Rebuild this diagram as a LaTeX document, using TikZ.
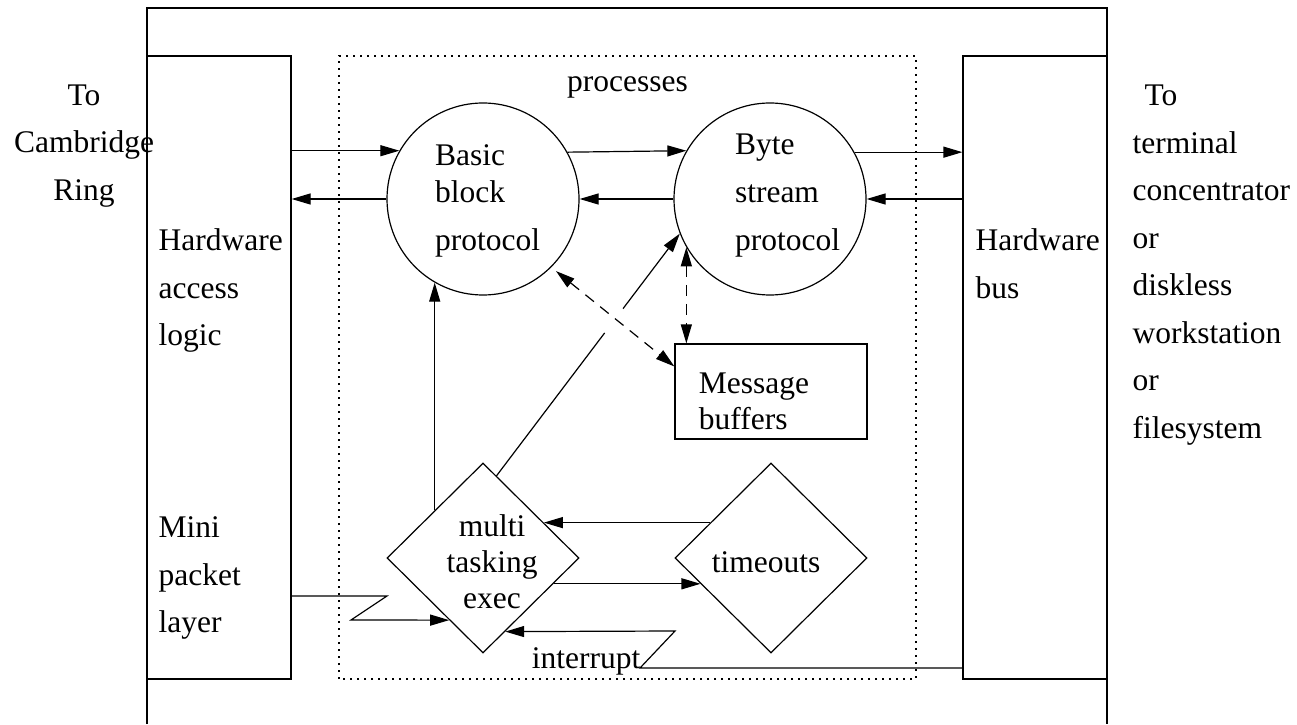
\documentclass[tikz,border=0pt]{standalone}
\usepackage{fontspec}
\setmainfont{Liberation Serif}
\usetikzlibrary{shapes.geometric,arrows.meta,calc,positioning}

\begin{document}
\begin{tikzpicture}[x=1pt,y=1pt,line width=1.2pt,
		>={Triangle[length=19pt,width=11pt]},
		txt/.style={font=\fontsize{31.5}{47.5}\selectfont,align=left,inner sep=0pt},
		txtk/.style={font=\fontsize{31.5}{36}\selectfont,align=left,inner sep=0pt},
		block/.style={draw,rectangle,inner sep=0pt},
		proc/.style={draw,circle,minimum size=192pt,inner sep=0pt},
		task/.style={draw,diamond,minimum width=192pt,minimum height=190pt,inner sep=0pt},
		gestrichelt/.style={dash pattern=on 11pt off 8pt},
		punktiert/.style={dash pattern=on 2pt off 5pt}]
				\useasboundingbox (0,0) rectangle (1297,724);
				
				% Rahmen (unten offen)
				\draw (147,0) -- (147,716) -- (1107,716) -- (1107,0);
				
				% Prozessbereich
				\draw[punktiert] (339,45) rectangle (916,668);
				\node[txt,anchor=base] (procs) at (627.5,632) {processes};
				
				% Hardware links und rechts
				\node[block,minimum width=144pt,minimum height=623pt] (hal) at (219,356.5) {};
				\node[block,minimum width=144pt,minimum height=623pt] (bus) at (1035,356.5) {};
				\node[txt,anchor=west] (hallbl) at (158,433.5) {Hardware\\access\\logic};
				\node[txt,anchor=west] (mpl) at (158,146) {Mini\\packet\\layer};
				\node[txt,anchor=west] (buslbl) at (975,460.5) {Hardware\\bus};
				
				% Beschriftung aussen
				\node[txt,align=center] (ring) at (84,578) {To\\Cambridge\\Ring};
				\node[txt,anchor=west] (term) at (1132,459) {\hspace*{12pt}To\\terminal\\concentrator\\or\\diskless\\workstation\\or\\filesystem};
				
				% Protokolle
				\node[proc,label={[txt,font=\fontsize{31.5}{48}\selectfont,xshift=4.5pt,yshift=-2pt]center:Basic\\[-11pt]block\\protocol}] (bbp) at (483,525) {};
				\node[proc,label={[txt,font=\fontsize{31.5}{48}\selectfont,xshift=17.5pt,yshift=3.5pt]center:Byte\\stream\\protocol}] (bsp) at (770,525) {};
				\node[block,minimum width=192pt,minimum height=95pt,label={[txtk,xshift=-17pt,yshift=-10pt]center:Message\\buffers}] (msg) at (771,332.5) {};
				
				% Executive und Timeouts
				\node[task,label={[txtk,align=center,xshift=9pt,yshift=-3.5pt]center:multi\\tasking\\exec}] (exec) at (483,166) {};
				\node[task,label={[txtk,xshift=-5pt,yshift=-4pt]center:timeouts}] (tmo) at (771,166) {};
				
				% Datenfluss oben
				\draw[->] (hal.east |- bbp.150.5) -- (bbp.150.5);
				\draw[->] (bbp.180) -- (bbp.180 -| hal.east);
				\draw[->] (bbp.29.5) -- (bsp.150.5);
				\draw[->] (bsp.180) -- (bbp.0);
				\draw[->] (bsp.29.5) -- (bsp.29.5 -| bus.west);
				\draw[->] (bus.west |- bsp.0) -- (bsp.0);
				
				% Pufferzugriff
				\draw[<->,gestrichelt,shorten <=6pt] (bbp.-45) -- ($(msg.north west)!0.24!(msg.south west)$);
				\draw[<->,gestrichelt] (bsp.210) -- (bsp.210 |- msg.north);
				
				% Steuerung durch die Executive
				\draw[->] (exec.north west) -- (exec.north west |- bbp.240);
				\coordinate (s) at ($(exec.north)!0.14!(exec.east)$);
				\draw (s) -- ($(s)!0.59!(bsp.201)$);
				\draw[->] ($(s)!0.69!(bsp.201)$) -- (bsp.201);
				\draw[->] ($(tmo.north)!0.63!(tmo.west)$) -- ($(exec.north)!0.63!(exec.east)$);
				\draw[->] ($(exec.east)!0.27!(exec.south)$) -- ($(tmo.west)!0.27!(tmo.south)$);
				
				% Pakete und Interrupt
				\draw[->] (hal.east |- 0,128) -- (387,128) -- (351,104) -- ($(exec.west)!0.65!(exec.south)$);
				\draw[->] (bus.west |- 0,56) -- (640,56) -- (675,93) -- ($(exec.east)!0.77!(exec.south)$);
				\node[txt,anchor=base] (irq) at (586,56) {interrupt};
				
			\end{tikzpicture}
\end{document}
